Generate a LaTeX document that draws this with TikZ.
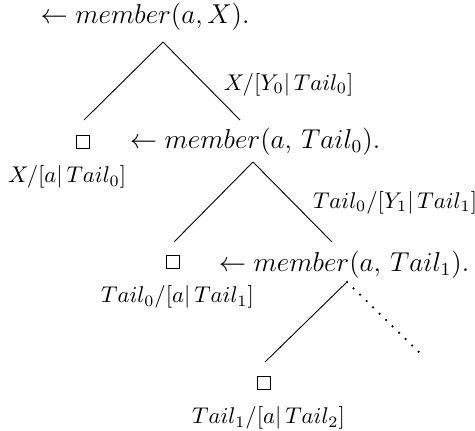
\documentclass[tikz,border=0pt]{standalone}
\usepackage{amsmath}
\usepackage{tikz}
\usetikzlibrary{positioning}

\begin{document}
\begin{tikzpicture}[x=0.44pt, y=-0.44pt,
      goal/.style={font=\large, inner sep=0pt},
      empty/.style={draw, minimum size=5.6pt, inner sep=0pt},
      subst/.style={font=\normalsize, inner sep=2pt},
      dots/.style={line width=1.1pt, line cap=round, dash pattern=on 0pt off 4pt},
    ]
    \useasboundingbox (0,0) rectangle (475,431);

    % Goals
    \node[goal] (G0) at (145,17)  {$\leftarrow member(a, X).$};
    \node[goal] (G1) at (255,142) {$\leftarrow member(a,\, Tail_0).$};
    \node[goal] (G2) at (344,265) {$\leftarrow member(a,\, Tail_1).$};

    % Branch points and branch ends
    \coordinate (T0) at (163,42);  \coordinate (L0) at (84,120);  \coordinate (R0) at (240,120);
    \coordinate (T1) at (253,162); \coordinate (L1) at (174,242); \coordinate (R1) at (332,242);
    \coordinate (T2) at (347,282); \coordinate (L2) at (265,362); \coordinate (R2) at (422,355);

    % Branches
    \draw (L0) -- (T0);
    \draw (T0) -- (R0) node[subst, pos=.55, right=6pt] {$X/[Y_0|\,Tail_0]$};
    \draw (L1) -- (T1);
    \draw (T1) -- (R1) node[subst, pos=.51, right=6.5pt] {$Tail_0/[Y_1|\,Tail_1]$};
    \draw (L2) -- (T2);
    \draw[dots] (T2) -- (R2);

    % Empty clauses with the answers below them
    \foreach \i/\x/\y/\sh/\lab in {
      0/83/142/-7pt/{$X/[a|\,Tail_0]$},
      1/173/262/2pt/{$Tail_0/[a|\,Tail_1]$},
      2/264/383/2pt/{$Tail_1/[a|\,Tail_2]$}}{
      \node[empty] (E\i) at (\x,\y) {};
      \node[subst, below=5.3pt of E\i, xshift=\sh] (A\i) {\lab};
      }
  \end{tikzpicture}
\end{document}
